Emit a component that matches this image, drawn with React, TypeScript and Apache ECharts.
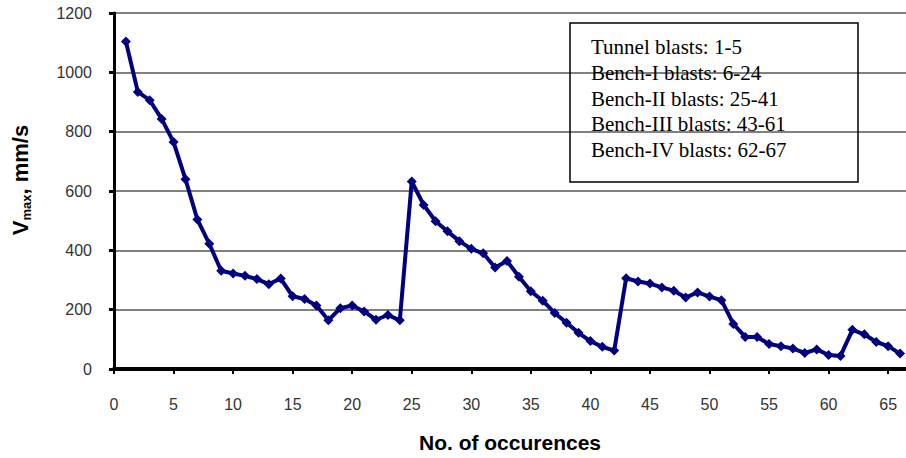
import React, { useEffect, useRef } from "react";
import * as echarts from "echarts";

const occurrences: number[] = [
  1, 2, 3, 4, 5, 6, 7, 8, 9, 10, 11, 12, 13, 14, 15, 16, 17, 18, 19, 20, 21, 22,
  23, 24, 25, 26, 27, 28, 29, 30, 31, 32, 33, 34, 35, 36, 37, 38, 39, 40, 41, 42,
  43, 44, 45, 46, 47, 48, 49, 50, 51, 52, 53, 54, 55, 56, 57, 58, 59, 60, 61, 62,
  63, 64, 65, 66,
];

const vmax: number[] = [
  1104, 934, 906, 843, 765, 640, 504, 422, 331, 322, 314, 303, 286, 305, 245,
  236, 214, 164, 205, 214, 194, 166, 182, 164, 632, 553, 498, 464, 431, 405, 390,
  342, 364, 311, 262, 230, 189, 156, 122, 94, 75, 62, 306, 295, 288, 275, 264,
  241, 258, 244, 232, 152, 108, 108, 84, 77, 69, 54, 66, 47, 44, 132, 117, 91, 77,
  52,
];

const legendLines: string[] = [
  "Tunnel blasts: 1-5",
  "Bench-I blasts: 6-24",
  "Bench-II blasts: 25-41",
  "Bench-III blasts: 43-61",
  "Bench-IV blasts: 62-67",
];

const yTicks = { min: 0, max: 1200, interval: 200 };
const xTicks = { min: 0, max: 66.5, interval: 5 };

export default function App() {
  const ref = useRef<HTMLDivElement>(null);
  useEffect(() => {
    if (!ref.current) return;
    const chart = echarts.init(ref.current, null, { renderer: "svg" });
    const data = occurrences.map((x, i) => [x, vmax[i]]);
    const sans = "'Liberation Sans', Arial, sans-serif";
    const serif = "'Liberation Serif', 'Times New Roman', serif";
    chart.setOption({
      animation: false,
      backgroundColor: "#ffffff",
      grid: { left: 114, right: 0, top: 13, bottom: 85.5, containLabel: false },
      xAxis: {
        type: "value",
        min: xTicks.min,
        max: xTicks.max,
        interval: xTicks.interval,
        name: "No. of occurences",
        nameLocation: "middle",
        nameGap: 63,
        nameTextStyle: { fontFamily: sans, fontWeight: "bold", fontSize: 21, color: "#000" },
        axisLine: { show: true, onZero: false, lineStyle: { color: "#000", width: 4 } },
        axisTick: { show: true, length: 5, lineStyle: { color: "#000", width: 2 } },
        axisLabel: {
          margin: 27,
          fontFamily: sans,
          fontSize: 16,
          color: "#333",
          showMaxLabel: false,
          formatter: (v: number) => (v % 5 === 0 ? String(v) : ""),
        },
        splitLine: { show: false },
      },
      yAxis: {
        type: "value",
        min: yTicks.min,
        max: yTicks.max,
        interval: yTicks.interval,
        axisLine: { show: true, lineStyle: { color: "#000", width: 3 } },
        axisTick: { show: true, length: 5, lineStyle: { color: "#000", width: 3 } },
        axisLabel: {
          margin: 22,
          fontFamily: sans,
          fontSize: 16,
          color: "#333",
          formatter: (v: number) => String(v),
        },
        splitLine: { show: true, lineStyle: { color: "#808080", width: 2 } },
      },
      graphic: [
        {
          type: "text",
          x: 20,
          y: 180,
          rotation: Math.PI / 2,
          style: {
            text: "{a|V}{b|max}{a|, mm/s}",
            align: "center",
            verticalAlign: "middle",
            fill: "#000",
            rich: {
              a: { fontFamily: sans, fontWeight: "bold", fontSize: 22, fill: "#000", verticalAlign: "bottom" },
              b: { fontFamily: sans, fontWeight: "bold", fontSize: 13, fill: "#000", verticalAlign: "bottom", padding: [0, 0, -2, 0] },
            },
          },
        },
        {
          type: "rect",
          shape: { x: 570, y: 23, width: 288, height: 159 },
          style: { fill: "none", stroke: "#000", lineWidth: 1.5 },
          z: 10,
        },
        ...legendLines.map((t, i) => ({
          type: "text",
          x: 591,
          y: 47 + i * 25.8,
          z: 10,
          style: {
            text: t,
            fontFamily: serif,
            fontSize: 21,
            fill: "#000",
            verticalAlign: "middle",
            align: "left",
          },
        })),
      ],
      series: [
        {
          type: "line",
          data,
          symbol: "diamond",
          symbolSize: 10,
          showSymbol: true,
          lineStyle: { color: "#000080", width: 4 },
          itemStyle: { color: "#000080" },
          clip: true,
        },
      ],
    });
    return () => chart.dispose();
  }, []);
  return (
    <div
      ref={ref}
      style={{ position: "fixed", left: 0, top: 0, width: 906, height: 458 }}
    />
  );
}
